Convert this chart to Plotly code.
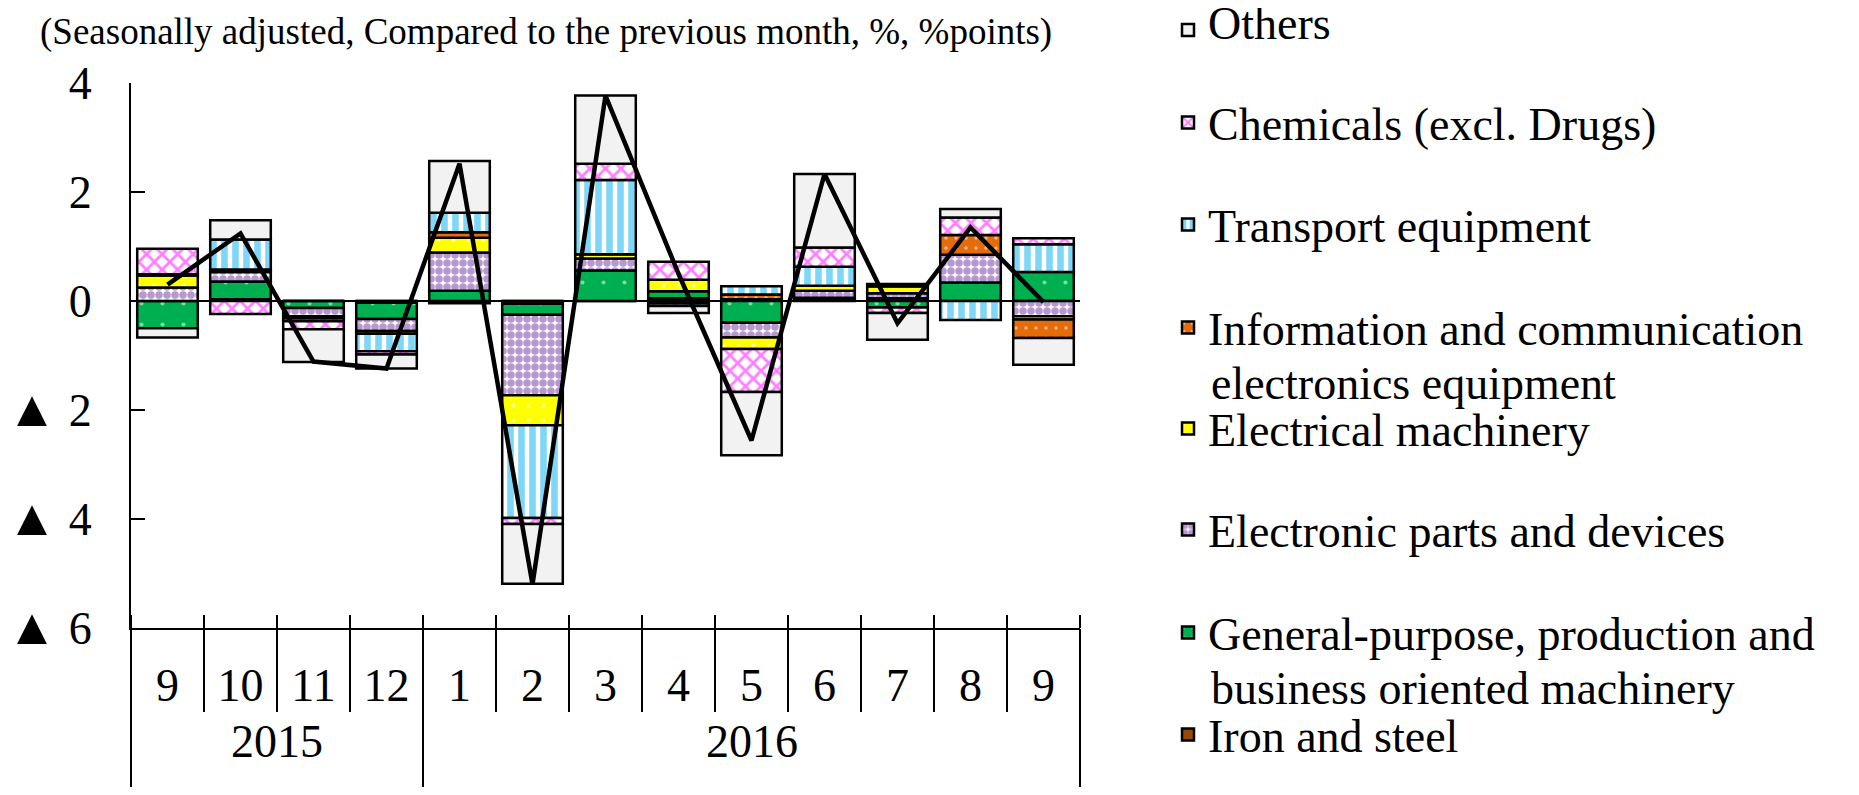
import plotly.graph_objects as go

# ---- data ----
years = ["2015", "2016"]
year_months = [4, 9]  # number of months shown in each year
months = ["9", "10", "11", "12", "1", "2", "3", "4", "5", "6", "7", "8", "9"]

iron_steel = [0.00, 0.03, 0.00, -0.03, -0.04, -0.05, 0.00, 0.05, 0.03, 0.02, 0.05, 0.00, 0.00]
general_machinery = [-0.50, 0.33, -0.13, -0.30, 0.19, -0.20, 0.56, 0.13, -0.40, 0.04, -0.12, 0.34, 0.53]
electronic_parts = [0.25, 0.17, -0.15, -0.22, 0.70, -1.48, 0.22, -0.04, -0.27, 0.13, 0.09, 0.51, -0.28]
electrical_machinery = [0.22, 0.05, -0.04, -0.05, 0.27, -0.55, 0.08, 0.21, -0.21, 0.09, 0.13, 0.00, -0.06]
info_comm = [0.02, 0.00, 0.00, 0.00, 0.10, 0.00, 0.00, 0.00, 0.09, 0.00, 0.00, 0.36, -0.34]
transport = [0.00, 0.55, -0.05, -0.32, 0.36, -1.70, 1.36, -0.05, 0.15, 0.35, 0.04, -0.35, 0.51]
chemicals = [0.47, -0.24, -0.15, -0.06, 0.00, -0.11, 0.30, 0.33, -0.79, 0.35, -0.10, 0.32, 0.11]
others = [-0.17, 0.35, -0.60, -0.26, 0.95, -1.10, 1.25, -0.13, -1.16, 1.35, -0.49, 0.16, -0.49]
total = [0.30, 1.24, -1.11, -1.24, 2.52, -5.20, 3.77, 0.50, -2.56, 2.33, -0.41, 1.35, -0.02]

y_tickvals = [-6, -4, -2, 0, 2, 4]
y_ticklabels = ["▲ 6", "▲ 4", "▲ 2", "0", "2", "4"]

# ---- derived category positions ----
pos = list(range(len(months)))
month_bounds = [p + 0.5 for p in pos[:-1]]
year_edges = [-0.5]
for n in year_months:
    year_edges.append(year_edges[-1] + n)
year_centers = [(a + b) / 2 for a, b in zip(year_edges[:-1], year_edges[1:])]

# ---- styling / geometry (page body has an 8px margin) ----
FONT = "Liberation Serif"
FS = 46
OFF = 8
W, H = 1859 - 2 * OFF, 795 - 2 * OFF
L, T = 131 - OFF, 83 - OFF
PW, PH = 949, 545
R, B = W - L - PW, H - T - PH

# enlarge the triangle glyph of negative tick labels
y_ticktext = [t.replace("▲", "<span style='font-size:51px'>▲</span>") for t in y_ticklabels]


def page_x(px):   # page pixel -> paper x
    return (px - OFF - L) / PW


def page_y(py):   # page pixel -> paper y
    return 1 - (py - OFF - T) / PH


series = [
    ("Iron and steel", iron_steel,
     dict(color="#984807", pattern=dict(shape="")), 739, None),
    ("General-purpose, production and", general_machinery,
     dict(color="#00B050", pattern=dict(shape=".", fgcolor="white", bgcolor="#00B050",
                                        size=21, solidity=0.03)), 637,
     ("business oriented machinery", 688)),
    ("Electronic parts and devices", electronic_parts,
     dict(color="#7030A0", pattern=dict(shape=".", fgcolor="#7030A0", bgcolor="white",
                                        size=8, solidity=0.7)), 534, None),
    ("Electrical machinery", electrical_machinery,
     dict(color="#FFFF00", pattern=dict(shape=".", fgcolor="white", bgcolor="#FFFF00",
                                        size=15, solidity=0.05)), 433, None),
    ("Information and communication", info_comm,
     dict(color="#E46C0A", pattern=dict(shape=".", fgcolor="white", bgcolor="#E46C0A",
                                        size=10, solidity=0.1)), 332,
     ("electronics equipment", 383)),
    ("Transport equipment", transport,
     dict(color="#00B0F0", pattern=dict(shape="|", fgcolor="#00B0F0", bgcolor="white",
                                        size=11, solidity=0.6)), 229, None),
    ("Chemicals (excl. Drugs)", chemicals,
     dict(color="#FF00FF", pattern=dict(shape="x", fgcolor="#FF00FF", bgcolor="white",
                                        size=11, solidity=0.45)), 127, None),
    ("Others", others,
     dict(color="#F2F2F2", pattern=dict(shape="")), 24, None),
]

fig = go.Figure()
legends = {}
annotations = []
for i, (name, vals, mk, ycen, second) in enumerate(series):
    lid = "legend" if i == 0 else f"legend{i + 1}"
    fig.add_trace(go.Bar(
        x=pos, y=vals, name=name, legend=lid,
        marker=dict(color=mk["color"], pattern=mk["pattern"],
                    line=dict(color="black", width=2.5)),
    ))
    top_fig = ycen - 49
    if top_fig >= 0:
        legends[lid] = dict(
            xref="container", yref="container",
            x=1160 / W, y=1 - top_fig / H, xanchor="left", yanchor="top",
            bgcolor="rgba(0,0,0,0)",
            font=dict(family=FONT, size=FS, color="black"),
        )
    else:
        # entry at the very top edge: compact item box, full-size text
        fig.data[-1].name = f"<span style='font-size:{FS}px'>{name}</span>"
        legends[lid] = dict(
            xref="container", yref="container",
            x=1160 / W, y=1, xanchor="left", yanchor="top",
            bgcolor="rgba(0,0,0,0)",
            font=dict(family=FONT, size=24, color="black"),
        )
    if second:
        annotations.append(dict(
            text=second[0], xref="paper", yref="paper",
            x=page_x(1209), y=page_y(second[1]), xanchor="left", yanchor="middle",
            showarrow=False, font=dict(family=FONT, size=FS, color="black"),
        ))

# total line drawn on an overlaying axis that also carries the table dividers
fig.add_trace(go.Scatter(
    x=pos, y=total, mode="lines", showlegend=False, xaxis="x2",
    line=dict(color="black", width=4.5),
))

for yr, xc in zip(years, year_centers):
    annotations.append(dict(
        text=yr, xref="x", yref="paper", x=xc, y=page_y(741),
        xanchor="center", yanchor="middle", showarrow=False,
        font=dict(family=FONT, size=FS, color="black"),
    ))

annotations.append(dict(
    text="(Seasonally adjusted, Compared to the previous month, %, %points)",
    xref="paper", yref="paper", x=page_x(38), y=page_y(32),
    xanchor="left", yanchor="middle", showarrow=False,
    font=dict(family=FONT, size=37, color="black"),
))

common_x = dict(range=[-0.5, len(months) - 0.5], showgrid=False, zeroline=False,
                automargin=False)

fig.update_layout(
    width=W, height=H,
    margin=dict(l=L, r=R, t=T, b=B, autoexpand=False),
    barmode="relative", bargap=0.17,
    plot_bgcolor="white", paper_bgcolor="white",
    font=dict(family=FONT, size=FS, color="black"),
    xaxis=dict(
        **common_x,
        tickmode="array", tickvals=pos, ticktext=months, ticks="",
        showline=True, linecolor="black", linewidth=2,
        minor=dict(tickvals=year_edges[:1] + month_bounds + year_edges[-1:],
                   ticks="inside", ticklen=13, tickwidth=2, tickcolor="black"),
        tickfont=dict(family=FONT, size=FS, color="black"),
        ticklabelstandoff=16,
    ),
    xaxis2=dict(
        **common_x, overlaying="x", anchor="y", side="bottom",
        tickmode="array", tickvals=year_edges, ticks="outside", ticklen=B,
        tickwidth=2, tickcolor="black", showticklabels=False, showline=False,
        minor=dict(tickvals=month_bounds, ticks="outside", ticklen=83,
                   tickwidth=2, tickcolor="black"),
    ),
    yaxis=dict(
        range=[-6, 4], tickvals=y_tickvals, ticktext=y_ticktext,
        ticks="inside", ticklen=14, tickwidth=2, tickcolor="black",
        showline=True, linecolor="black", linewidth=2,
        zeroline=True, zerolinecolor="black", zerolinewidth=2,
        showgrid=False, tickfont=dict(family=FONT, size=FS, color="black"),
        ticklabelstandoff=28, automargin=False,
    ),
    annotations=annotations,
    **legends,
)

fig.write_html("out.html")
